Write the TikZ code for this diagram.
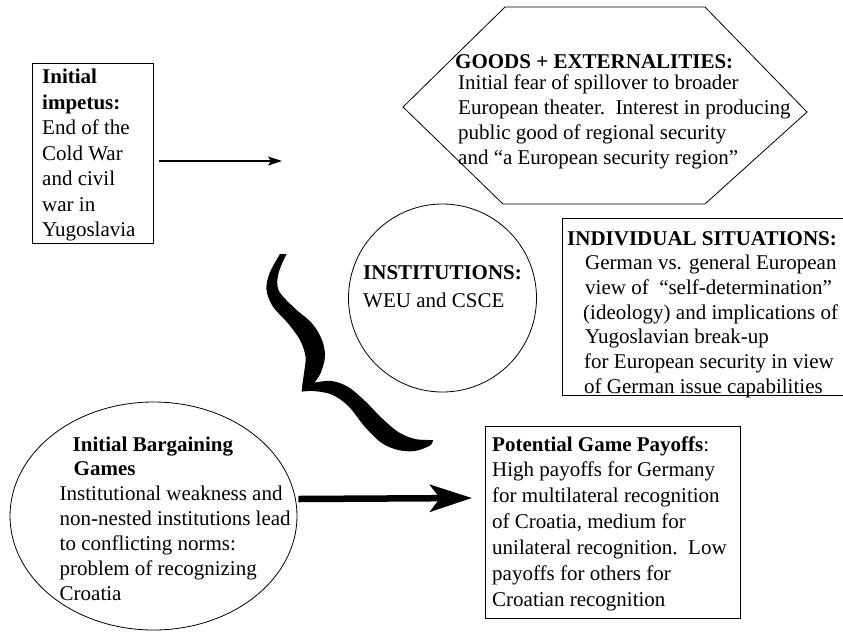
\documentclass[tikz,border=0pt]{standalone}
\usepackage{fontspec}
\setmainfont{Liberation Serif}
\usetikzlibrary{shapes.geometric,arrows.meta}

% fixed height for the first line of each text block
\newcommand\hdstrut{\rule{0pt}{16pt}}

\begin{document}
\begin{tikzpicture}[x=1pt,y=-1pt,
  outline/.style={draw=black, line width=0.8pt},
  framebox/.style={outline, rectangle, inner sep=0pt},
  txt/.style={anchor=north west, inner sep=0pt, align=left,
              font=\fontsize{21pt}{#1}\selectfont},
  txt/.default=25pt,
  thinarrow/.style={line width=1.1pt, -{Stealth[length=14pt,width=9pt,inset=3pt]}},
  fatarrow/.style={line width=6.5pt, -{Stealth[length=42pt,width=27pt,inset=10pt]}},
]
\useasboundingbox (0,0) rectangle (843,633);
\fill[white] (0,0) rectangle (843,633);
\clip (0,0) rectangle (843,633);

% ---- initial impetus -------------------------------------------------
\node[framebox, minimum width=121pt, minimum height=180pt] (impetus) at (92.5,153) {};
\node[txt=25.5pt] (impetus-text) at (42,67.5)
  {\hdstrut\textbf{Initial}\\ \textbf{impetus:}\\ End of the\\ Cold War\\ and civil\\ war in\\ Yugoslavia};
\coordinate (impetus-end) at (282,161);
\draw[thinarrow] ([xshift=6pt,yshift=-8pt]impetus.east) -- (impetus-end);

% ---- goods and externalities (hexagon) -------------------------------
\draw[outline] (403,107) -- (505,7) -- (705,7) -- (807,112) -- (705,204) -- (503,204) -- cycle;
\node[txt=25pt] (goods-text) at (455,52)
  {\hdstrut\textbf{GOODS + EXTERNALITIES:}\\[-3.5pt]
   \hspace*{3pt}Initial fear of spillover to broader\\
   \hspace*{3pt}European theater.~~Interest in producing\\
   \hspace*{3pt}public good of regional security\\
   \hspace*{3pt}and “a European security region”};

% ---- institutions ----------------------------------------------------
\node[outline, circle, minimum size=188pt, inner sep=0pt] (institutions) at (442.5,298) {};
\node[txt=28.5pt] (institutions-text) at (363,263)
  {\hdstrut\textbf{INSTITUTIONS:}\\ WEU and CSCE};

% ---- individual situations -------------------------------------------
\node[framebox, minimum width=288pt, minimum height=177pt] (situations) at (706,306.5) {};
\node[txt=24.7pt] (situations-text) at (567,229)
  {\hdstrut\textbf{INDIVIDUAL SITUATIONS:}\\[-0.2pt]
   \hspace*{18pt}German vs. general European\\
   \hspace*{18pt}view of~~“self-determination”\\
   \hspace*{16pt}(ideology) and implications of\\
   \hspace*{18pt}Yugoslavian break-up\\
   \hspace*{17pt}for European security in view\\
   \hspace*{17pt}of German issue capabilities};

% ---- brace linking the upper and lower halves -------------------------
\fill[black]
  plot[smooth, tension=0.55] coordinates {(280,254) (269.5,273.3) (266.5,290) (273,306.7) (288,323.3) (300,340) (305.5,356.7) (304,373.3) (302.5,383.3) (301.7,391.7)}
  -- plot[smooth, tension=0.55] coordinates {(301.7,391.7) (313.3,391) (331.7,394.5) (348.3,406) (365,427) (381.7,443) (398.3,450) (415,451) (430,445.5) (433,440)}
  -- plot[smooth, tension=0.55] coordinates {(433,440) (415,439) (398.3,432) (381.7,418) (365,401) (348.3,387) (331.7,381) (314.5,382.5)}
  -- plot[smooth, tension=0.55] coordinates {(314.5,382.5) (320.5,373.3) (325,356.7) (322,340) (312,323.3) (293,306.7) (278.5,290) (278.5,273.3) (286.5,254)}
  -- cycle;

% ---- initial bargaining games ----------------------------------------
\node[outline, ellipse, minimum width=287pt, minimum height=228pt, inner sep=0pt] (games) at (153.5,516) {};
\node[txt=25pt] (games-text) at (59.5,435)
  {\hdstrut\hspace*{13pt}\textbf{Initial Bargaining}\\[-0.5pt]
   \hspace*{14pt}\textbf{Games}\\
   Institutional weakness and\\
   non-nested institutions lead\\
   to conflicting norms:\\
   problem of recognizing\\
   Croatia};

% ---- potential game payoffs ------------------------------------------
\node[framebox, minimum width=255pt, minimum height=192pt] (payoffs) at (612.5,522) {};
\node[txt=26pt] (payoffs-text) at (492,435.5)
  {\hdstrut\textbf{Potential Game Payoffs}:\\[-1.5pt]
   High payoffs for Germany\\
   for multilateral recognition\\
   of Croatia, medium for\\
   unilateral recognition.~~Low\\
   payoffs for others for\\
   Croatian recognition};
\coordinate (payoffs-in) at (472,498);
\draw[fatarrow] ([xshift=1pt,yshift=17pt]games.east) -- (payoffs-in);

\end{tikzpicture}
\end{document}
